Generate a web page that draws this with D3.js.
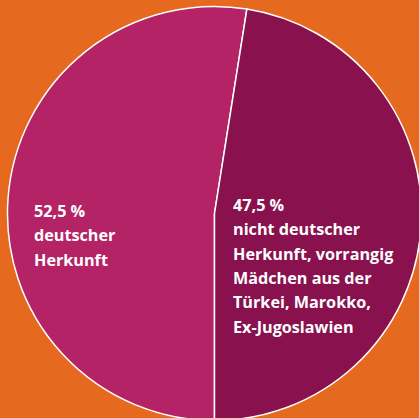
<!DOCTYPE html>
<html>
<head>
<meta charset="utf-8">
<script src="https://cdn.jsdelivr.net/npm/d3@7"></script>
<style>
  html, body { margin: 0; padding: 0; background: #e56a20; }
  svg { display: block; }
</style>
</head>
<body>
<div class="chart"></div>
<script>
const categories = ['deutscher Herkunft', 'nicht deutscher Herkunft']
const shares = [52.5, 47.5]
const labelLines = [
    ['52,5 %', 'deutscher', 'Herkunft'],
    ['47,5 %', 'nicht deutscher', 'Herkunft, vorrangig', 'Mädchen aus der', 'Türkei, Marokko,', 'Ex-Jugoslawien']
]
const colors = ['#b32365', '#88114e']

const width = 419, height = 418
const cx = 214.5, cy = 213.5, radius = 207

const svg = d3.select('.chart')
    .append('svg')
        .attr('width', width)
        .attr('height', height)
        .attr('viewBox', `0 0 ${width} ${height}`)

svg.append('rect')
    .attr('width', width)
    .attr('height', height)
    .attr('fill', '#e56a20')

const data = categories.map((c, i) => ({ name: c, value: shares[i], lines: labelLines[i] }))

// the lighter slice starts straight down and runs clockwise
const pie = d3.pie()
    .sort(null)
    .value(d => d.value)
    .startAngle(Math.PI)
    .endAngle(3 * Math.PI)

const arc = d3.arc().innerRadius(0).outerRadius(radius)

const g = svg.append('g')
    .attr('transform', `translate(${cx}, ${cy})`)

g.selectAll('path')
    .data(pie(data))
    .enter()
    .append('path')
        .attr('d', arc)
        .attr('fill', (d, i) => colors[i])
        .style('stroke', 'white')
        .style('stroke-width', 1.5)

//labels
const labelPos = [[34 - cx, 217 - cy], [233 - cx, 211 - cy]]
const lineHeight = 24.3

const labels = g.selectAll('text')
    .data(data)
    .enter()
    .append('text')
        .attr('x', (d, i) => labelPos[i][0])
        .attr('y', (d, i) => labelPos[i][1])
        .style('font-family', '"Open Sans", sans-serif')
        .style('font-weight', 700)
        .style('font-size', '16.2px')
        .style('fill', 'white')

labels.selectAll('tspan')
    .data(d => d.lines)
    .enter()
    .append('tspan')
        .attr('x', function () { return this.parentNode.getAttribute('x') })
        .attr('dy', (d, i) => i === 0 ? 0 : lineHeight)
        .text(d => d)
</script>
</body>
</html>
